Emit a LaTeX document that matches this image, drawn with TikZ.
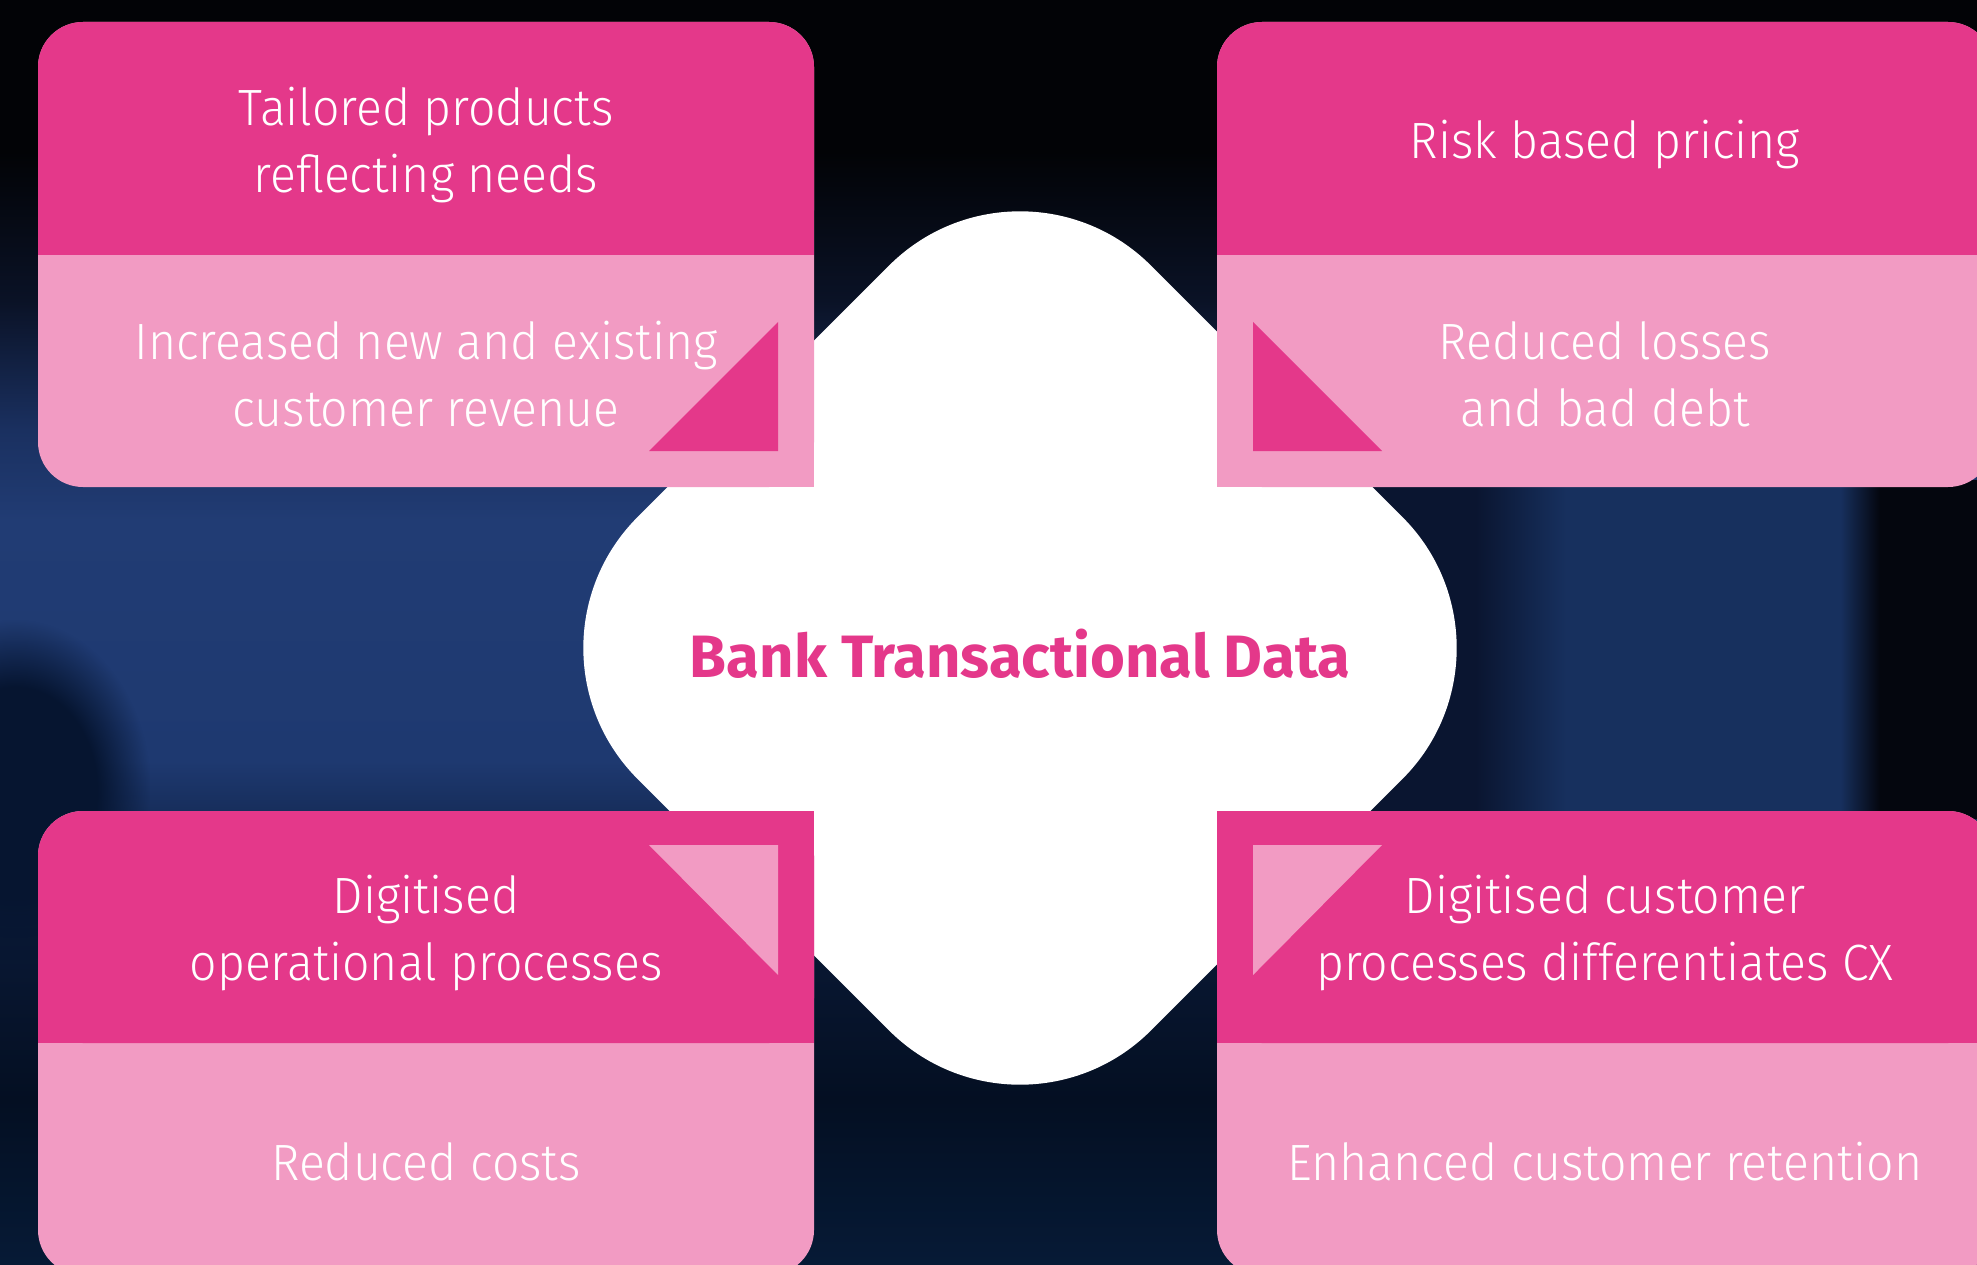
\documentclass[tikz,border=0pt]{standalone}
\usepackage{fontspec}
\setmainfont{Fira Sans}
\newfontfamily\finefont[FakeStretch=0.945]{Fira Sans Light}
\usetikzlibrary{positioning, fadings}

\definecolor{pinkdark}{HTML}{E4388A}
\definecolor{pinklight}{HTML}{F29BC3}
\definecolor{bgtop}{HTML}{020306}
\definecolor{bgdim}{HTML}{0A1226}
\definecolor{bgmid}{HTML}{1A3060}
\definecolor{bgblue}{HTML}{213C74}
\definecolor{bgblue2}{HTML}{1E3970}
\definecolor{bgnavy}{HTML}{0A1A38}
\definecolor{bgdeep}{HTML}{040F22}
\definecolor{bgbottom}{HTML}{061A36}
\definecolor{bandedge}{HTML}{0A1530}
\definecolor{bandblue}{HTML}{17305E}
\definecolor{bandblack}{HTML}{04060E}
\definecolor{shadow}{HTML}{061530}

% Fond : degrade vertical et bande de droite
\pgfdeclareverticalshading{backdrop}{100bp}{color(0bp)=(bgbottom); color(25bp)=(bgbottom); color(31.5bp)=(bgdeep);
  color(39.4bp)=(bgnavy); color(44.9bp)=(bgblue2); color(54.4bp)=(bgblue); color(58bp)=(bgmid);
  color(63.1bp)=(bgdim); color(69bp)=(bgtop); color(100bp)=(bgtop)}
\pgfdeclarehorizontalshading{rightband}{100bp}{color(0bp)=(bandedge); color(25bp)=(bandedge); color(42bp)=(bandedge);
  color(48bp)=(bandblue); color(66bp)=(bandblue); color(68.6bp)=(bandblack); color(100bp)=(bandblack)}
\pgfdeclareradialshading{glowshade}{\pgfpointorigin}{color(0bp)=(pgftransparent!0); color(15bp)=(pgftransparent!0);
  color(25bp)=(pgftransparent!100); color(50bp)=(pgftransparent!100)}
\pgfdeclarefading{softglow}{\pgfuseshading{glowshade}}

\tikzset{
  cardtext/.style={text=white, align=center, font=\finefont\fontsize{14.5}{19}\selectfont},
  coretext/.style={text=pinkdark, font=\bfseries\fontsize{17}{20}\selectfont},
  card/.style={rounded corners=4.5mm}
}

\begin{document}
\begin{tikzpicture}[x=0.01cm, y=-0.01cm]
            \useasboundingbox (0,0) rectangle (1977,1264);
            \clip (0,0) rectangle (1977,1264);

            % Fond
            \shade[shading=backdrop] (0,0) rectangle (1977,1264);
            \shade[shading=rightband] (1217,480) rectangle (1977,818);
            \fill[shadow, path fading=softglow] (-120,620) rectangle (150,960);

            % Forme centrale
            \begin{scope}[shift={(1020,648)}, rotate=45]
                \fill[white, rounded corners=1.85cm] (-363,-363) rectangle (363,363);
            \end{scope}
            \node[coretext] (core) at (1020,654) {Bank Transactional Data};

            % Bloc haut gauche
            \fill[pinklight, card] (38,22) rectangle (814,487);
            \fill[pinklight] (760,430) rectangle (814,487);
            \fill[pinkdark, card] (38,22) rectangle (814,255);
            \fill[pinkdark] (38,200) rectangle (814,255);
            \fill[pinkdark] (778,322) -- (778,451) -- (649,451) -- cycle;
            \node[cardtext] (tl-top) at (426,145) {Tailored products\\reflecting needs};
            \node[cardtext] (tl-bottom) at (426,374) {Increased new and existing\\customer revenue};

            % Bloc haut droit
            \fill[pinklight, card] (1217,22) rectangle (1993,487);
            \fill[pinklight] (1217,430) rectangle (1270,487);
            \fill[pinkdark, card] (1217,22) rectangle (1993,255);
            \fill[pinkdark] (1217,200) rectangle (1993,255);
            \fill[pinkdark] (1253,322) -- (1253,451) -- (1382,451) -- cycle;
            \node[cardtext] (tr-top) at (1605,145) {Risk based pricing};
            \node[cardtext] (tr-bottom) at (1605,374) {Reduced losses\\and bad debt};

            % Bloc bas gauche
            \fill[pinklight, card] (38,811) rectangle (814,1275);
            \fill[pinkdark, card] (38,811) rectangle (814,1043);
            \fill[pinkdark] (38,990) rectangle (814,1043);
            \fill[pinkdark] (760,811) rectangle (814,870);
            \fill[pinklight] (649,845) -- (778,845) -- (778,975) -- cycle;
            \node[cardtext] (bl-top) at (426,933) {Digitised\\operational processes};
            \node[cardtext] (bl-bottom) at (426,1162) {Reduced costs};

            % Bloc bas droit
            \fill[pinklight, card] (1217,811) rectangle (1993,1275);
            \fill[pinkdark, card] (1217,811) rectangle (1993,1043);
            \fill[pinkdark] (1217,990) rectangle (1993,1043);
            \fill[pinkdark] (1217,811) rectangle (1270,870);
            \fill[pinklight] (1253,845) -- (1382,845) -- (1253,975) -- cycle;
            \node[cardtext] (br-top) at (1605,933) {Digitised customer\\processes differentiates CX};
            \node[cardtext] (br-bottom) at (1605,1162) {Enhanced customer retention};
        \end{tikzpicture}
\end{document}
